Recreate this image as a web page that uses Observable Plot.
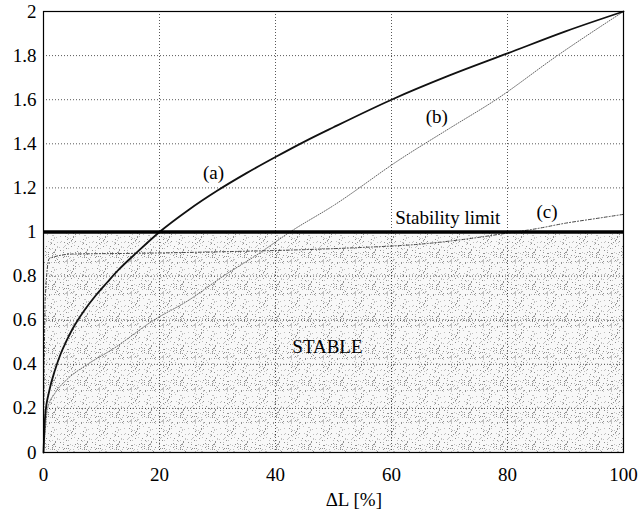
<!DOCTYPE html>
<html>
<head>
<meta charset="utf-8">
<script src="https://cdn.jsdelivr.net/npm/d3@7"></script>
<script src="https://cdn.jsdelivr.net/npm/@observablehq/plot@0.6"></script>
<style>
  html, body { margin: 0; padding: 0; background: #fff; }
  #chart svg, #chart svg text { font-family: "Liberation Serif", "Times New Roman", serif !important; }
</style>
</head>
<body>
<div id="chart"></div>
<script>
// ---- data ----
const aX = [0, 0.3, 1, 2, 3, 4, 5, 7, 9, 11, 13, 16, 20, 25, 30, 35, 40, 45, 50, 60, 70, 80, 90, 100];
const aY = [0, 0.17, 0.28, 0.375, 0.45, 0.508, 0.56, 0.643, 0.712, 0.772, 0.83, 0.905, 1.0, 1.1, 1.188, 1.267, 1.34, 1.41, 1.475, 1.6, 1.71, 1.81, 1.91, 2.0];

const bX = [0, 0.3, 0.7, 2, 4, 7.6, 12, 19, 25, 31, 37, 42.5, 50, 61.5, 70, 78, 88.6, 100];
const bY = [0, 0.1, 0.2, 0.27, 0.33, 0.4, 0.47, 0.6, 0.69, 0.8, 0.9, 1.0, 1.12, 1.33, 1.47, 1.6, 1.8, 2.0];

const cX = [0, 0.3, 1, 5, 15, 30, 45, 55, 65, 72, 80, 85, 90, 95, 100];
const cY = [0, 0.7, 0.88, 0.9, 0.903, 0.91, 0.92, 0.93, 0.945, 0.965, 0.995, 1.015, 1.04, 1.06, 1.08];

const stabilityLimit = [1];
const stableX = [0, 100];
const stableY = [0, 1];

const xTicks = [0, 20, 40, 60, 80, 100];
const yTicks = [0, 0.2, 0.4, 0.6, 0.8, 1, 1.2, 1.4, 1.6, 1.8, 2];
const xGrid = [20, 40, 60, 80];
const yGrid = [0.2, 0.4, 0.6, 0.8, 1.2, 1.4, 1.6, 1.8];

const labels = [
  {x: 29.3, y: 1.27, text: "(a)"},
  {x: 67.8, y: 1.52, text: "(b)"},
  {x: 86.8, y: 1.093, text: "(c)"},
  {x: 69.7, y: 1.065, text: "Stability limit"}
];
const stableLabel = [{x: 42.9, y: 0.48, text: "STABLE"}];
const xLabel = [{x: 53.5, text: "ΔL [%]"}];

const toPts = (xs, ys) => xs.map((x, i) => ({x, y: ys[i]}));
const A = toPts(aX, aY), B = toPts(bX, bY), C = toPts(cX, cY);
const region = [{x1: stableX[0], x2: stableX[1], y1: stableY[0], y2: stableY[1]}];

const FONT = "Liberation Serif";

const chart = Plot.plot({
  width: 639,
  height: 514,
  marginLeft: 43,
  marginRight: 16,
  marginTop: 11,
  marginBottom: 62,
  style: {fontFamily: FONT, fontSize: "19px", background: "#fff", color: "#000"},
  x: {domain: [0, 100]},
  y: {domain: [0, 2]},
  marks: [
    Plot.rect(region, {x1: "x1", x2: "x2", y1: "y1", y2: "y2", fill: "url(#stipple)"}),
    Plot.gridX(xGrid, {stroke: "#000", strokeOpacity: 0.65, strokeWidth: 1, strokeDasharray: "1,2"}),
    Plot.gridY(yGrid, {stroke: "#000", strokeOpacity: 0.65, strokeWidth: 1, strokeDasharray: "1,2"}),
    Plot.line(B, {x: "x", y: "y", stroke: "#666", strokeWidth: 1, strokeDasharray: "1,1.5", curve: "monotone-x"}),
    Plot.line(C, {x: "x", y: "y", stroke: "#444", strokeWidth: 1, strokeDasharray: "3,2,1,2", curve: "monotone-x"}),
    Plot.line(A, {x: "x", y: "y", stroke: "#111", strokeWidth: 1.8, curve: "monotone-x"}),
    Plot.ruleY(stabilityLimit, {stroke: "#000", strokeWidth: 3.5}),
    Plot.frame({stroke: "#000", strokeWidth: 1.2}),
    Plot.text(labels, {x: "x", y: "y", text: "text", fontSize: 19, fontFamily: FONT, fill: "#000", textAnchor: "middle", lineAnchor: "middle"}),
    Plot.text(stableLabel, {x: "x", y: "y", text: "text", fontSize: 19, fontFamily: FONT, fill: "#000", textAnchor: "start", lineAnchor: "middle"}),
    Plot.text(xLabel, {x: "x", text: "text", frameAnchor: "bottom", dy: 47, fontSize: 19, fontFamily: FONT, fill: "#000", textAnchor: "middle", lineAnchor: "middle"}),
    Plot.axisX(xTicks, {tickSize: 0, tickPadding: 15, fontSize: 19, fontFamily: FONT, label: null, tickFormat: d => String(d)}),
    Plot.axisY(yTicks, {tickSize: 0, tickPadding: 7, fontSize: 19, fontFamily: FONT, label: null, tickFormat: d => String(d)})
  ]
});

// stipple texture (deterministic scatter) for the stable region
const ns = "http://www.w3.org/2000/svg";
const TILE = 32;
const defs = document.createElementNS(ns, "defs");
const pat = document.createElementNS(ns, "pattern");
pat.setAttribute("id", "stipple");
pat.setAttribute("patternUnits", "userSpaceOnUse");
pat.setAttribute("width", TILE);
pat.setAttribute("height", TILE);
const bg = document.createElementNS(ns, "rect");
bg.setAttribute("width", TILE); bg.setAttribute("height", TILE); bg.setAttribute("fill", "#f8f8f8");
pat.appendChild(bg);
const hash = (i, j) => {
  let h = (i * 374761393 + j * 668265263) | 0;
  h = Math.imul(h ^ (h >>> 13), 1274126177);
  h ^= h >>> 16;
  return (h >>> 0) / 4294967296;
};
for (let i = 0; i < TILE; i++) {
  for (let j = 0; j < TILE; j++) {
    const v = hash(i, j);
    if (v < 0.13) {
      const r = document.createElementNS(ns, "rect");
      r.setAttribute("x", i); r.setAttribute("y", j);
      r.setAttribute("width", "1"); r.setAttribute("height", "1");
      r.setAttribute("fill", v < 0.045 ? "#909090" : "#c0c0c0");
      pat.appendChild(r);
    }
  }
}
defs.appendChild(pat);
chart.insertBefore(defs, chart.firstChild);

document.getElementById("chart").appendChild(chart);
</script>
</body>
</html>
